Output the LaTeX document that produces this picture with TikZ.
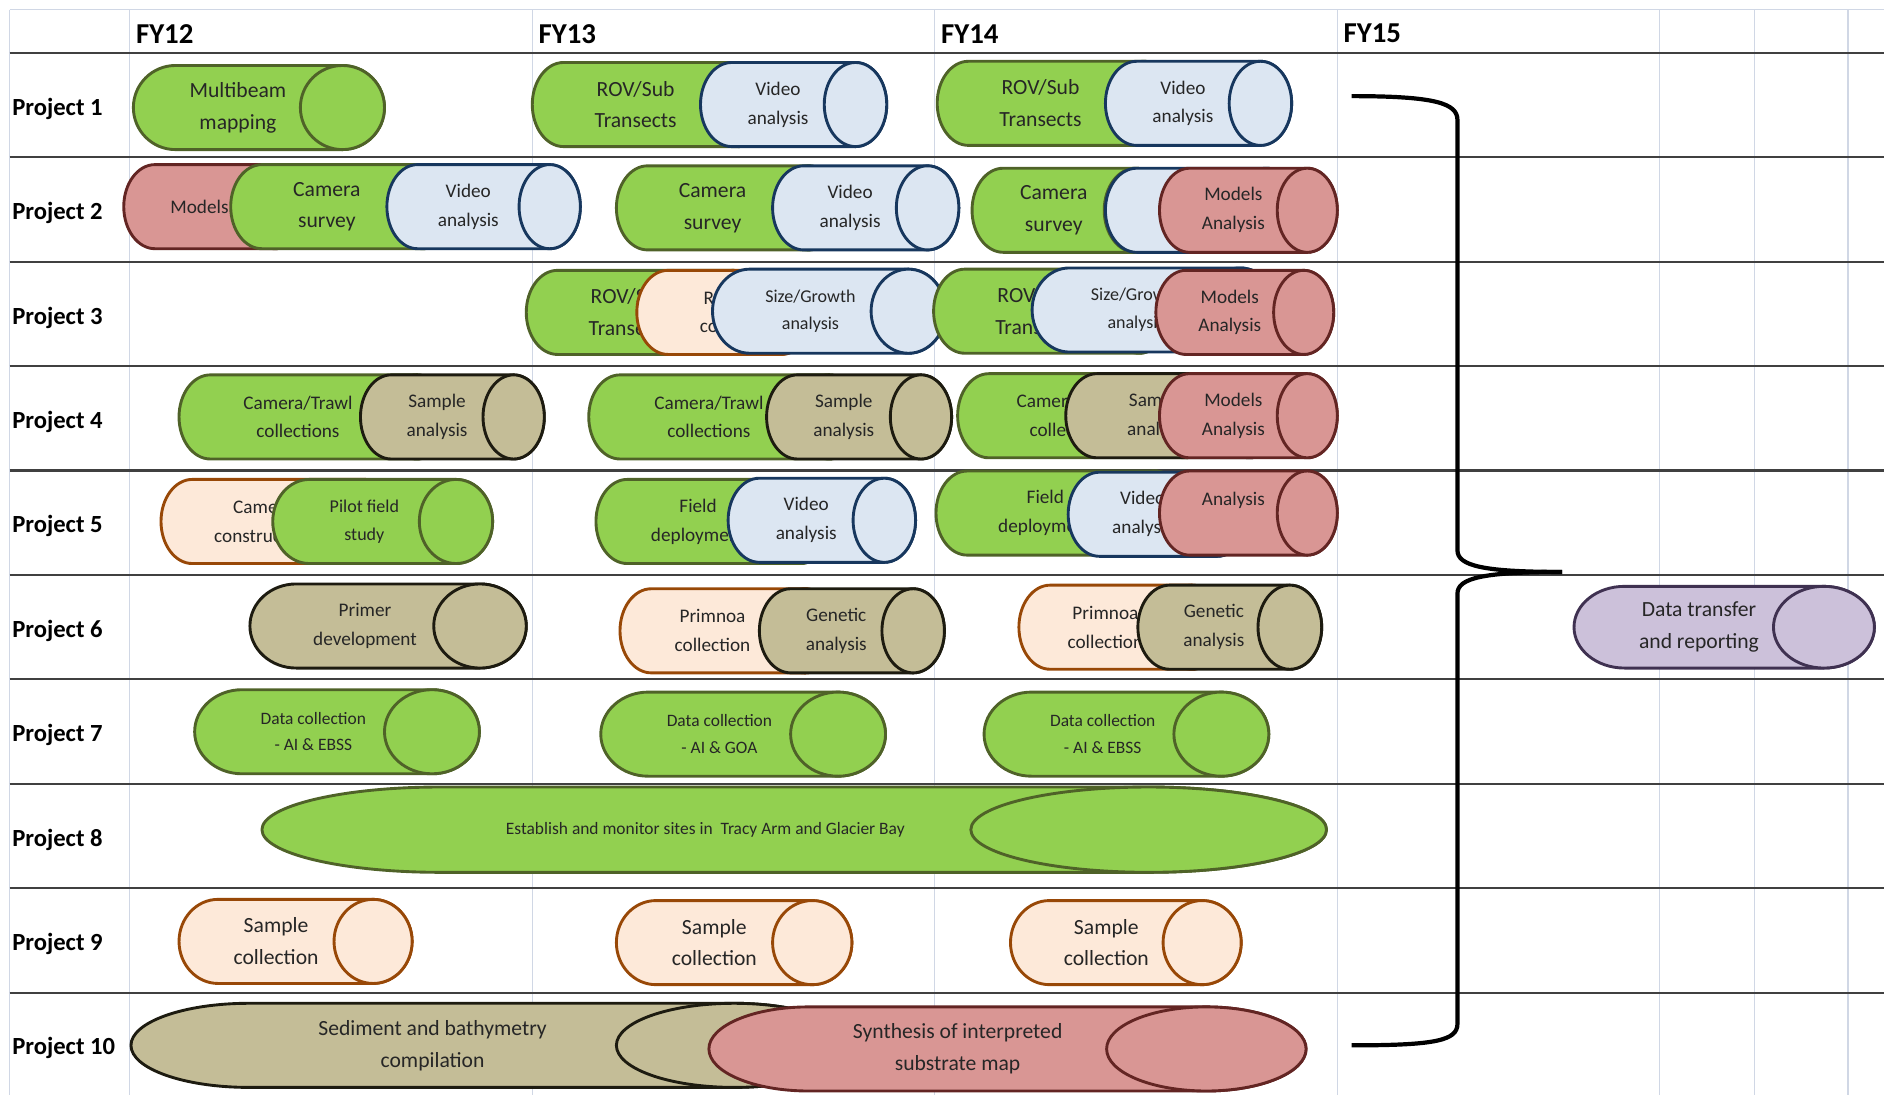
\documentclass[tikz,border=0pt]{standalone}
\usepackage{fontspec}
\setmainfont{Carlito}

\definecolor{grnfill}{HTML}{92D050}
\definecolor{grnline}{HTML}{4F6228}
\definecolor{blufill}{HTML}{DCE6F2}
\definecolor{bluline}{HTML}{17375E}
\definecolor{redfill}{HTML}{D99694}
\definecolor{redline}{HTML}{632523}
\definecolor{tanfill}{HTML}{C4BD97}
\definecolor{tanline}{HTML}{1D1B10}
\definecolor{pchfill}{HTML}{FDE9D9}
\definecolor{pchline}{HTML}{984807}
\definecolor{lavfill}{HTML}{CCC1DA}
\definecolor{lavline}{HTML}{3F3151}
\definecolor{gridline}{HTML}{D0D7E5}

% lying cylinder: [y radius]{style}{name}{left}{right}{y}{x radius}{text}
\newcommand\tube[8][35]{%
    \filldraw[tube, #2] ({#4+#7},{#6-#1}) -- ({#5-#7},{#6-#1})
        arc[start angle=90, end angle=-90, x radius=#7pt, y radius=#1pt]
        -- ({#4+#7},{#6+#1})
        arc[start angle=270, end angle=90, x radius=#7pt, y radius=#1pt] -- cycle;
    \draw[tube, #2] ({#5-#7},#6) ellipse [x radius=#7pt, y radius=#1pt];
    \node[font=\fontsize{16}{24}\selectfont, #2, tubetext] (#3) at ({(#4+#5-#7)/2},#6) {#8};
}

\begin{document}
\begin{tikzpicture}
    [
    x=1pt, y=-1pt,
    grid/.style={draw=gridline, line width=1pt},
    rule/.style={draw=black!75, line width=1.8pt},
    year/.style={anchor=west, inner sep=0pt, font=\fontsize{24}{28}\selectfont\bfseries},
    rowname/.style={anchor=west, inner sep=0pt, font=\fontsize{20.5}{24}\selectfont\bfseries},
    tube/.style={line width=2.4pt, line join=round},
    tubetext/.style={draw=none, fill=none, inner sep=0pt, align=center, text=black!85},
    bigfont/.style={font=\fontsize{18}{26.5}\selectfont},
    narrowfont/.style={font=\fontsize{15}{23}\selectfont},
    smallfont/.style={font=\fontsize{14.5}{22}\selectfont},
    tgreen/.style={draw=grnline, fill=grnfill},
    tblue/.style={draw=bluline, fill=blufill},
    tred/.style={draw=redline, fill=redfill},
    ttan/.style={draw=tanline, fill=tanfill},
    tpeach/.style={draw=pchline, fill=pchfill},
    tlav/.style={draw=lavline, fill=lavfill},
    brace/.style={draw=black, line width=3.5pt},
    ]

    \useasboundingbox (0,0) rectangle (1568,911);

    % grid of the sheet
    \foreach \x in {8,108,443,778,1113,1381,1460,1538}
        \draw[grid] (\x,8) -- (\x,911);
    \draw[grid] (8,8) -- (1568,8);
    \foreach \i in {0,...,9}
        \draw[rule] (8,{44+86.9*\i}) -- (1568,{44+86.9*\i});

    \node[year] (fy12) at (113,28) {FY12};
    \node[year] (fy13) at (448,28) {FY13};
    \node[year] (fy14) at (783,28) {FY14};
    \node[year] (fy15) at (1118,28) {FY15};

    \foreach \i in {1,...,10}
        \node[rowname] (proj\i) at (10,{47+86.9*(\i-0.5)}) {Project \i};

    % Project 1
    \tube{tgreen,bigfont}{p1_mapping}{111}{320}{89.5}{35}{Multibeam\\mapping}
    \tube{tgreen,bigfont}{p1_rov13}{443}{641}{87}{26}{ROV/Sub\\Transects}
    \tube{tblue}{p1_video13}{583}{738}{87}{26}{Video\\analysis}
    \tube{tgreen,bigfont}{p1_rov14}{780}{978}{86}{26}{ROV/Sub\\Transects}
    \tube{tblue}{p1_video14}{920}{1075}{86}{26}{Video\\analysis}

    % Project 2
    \tube{tred}{p2_models12}{103}{255}{172}{26}{Models}
    \tube{tgreen,bigfont}{p2_camera12}{192}{378}{172}{26}{Camera\\survey}
    \tube{tblue}{p2_video12}{322}{483}{172}{25.5}{Video\\analysis}
    \tube{tgreen,bigfont}{p2_camera13}{513}{699}{173}{26}{Camera\\survey}
    \tube{tblue}{p2_video13}{643}{798}{173}{26}{Video\\analysis}
    \tube{tgreen,bigfont}{p2_camera14}{809}{971}{175}{26}{Camera\\survey}
    \tube{tblue}{p2_video14}{920}{1080}{175}{26}{}
    \tube{tred}{p2_models14}{965}{1113}{175}{25}{Models\\Analysis}

    % Project 3
    \tube{tgreen,bigfont}{p3_rov13}{438}{636}{260}{26}{ROV/Sub\\Transects}
    \tube{tpeach}{p3_coll13}{530}{676}{260}{26}{R\\co}
    \tube{tblue,narrowfont}{p3_size13}{593}{787}{259}{31}{Size/Growth\\analysis}
    \tube{tgreen,bigfont}{p3_rov14}{777}{974}{259}{26}{ROV/Sub\\Transects}
    \tube{tblue,narrowfont}{p3_size14}{859}{1063}{258}{31}{Size/Growth\\analysis}
    \tube{tred}{p3_models14}{962}{1110}{260}{25}{Models\\Analysis}

    % Project 4
    \tube{tgreen}{p4_trawl12}{149}{373}{347}{26}{Camera/Trawl\\collections}
    \tube{ttan}{p4_sample12}{300}{453}{347}{25.5}{Sample\\analysis}
    \tube{tgreen}{p4_trawl13}{490}{716}{347}{26}{Camera/Trawl\\collections}
    \tube{ttan}{p4_sample13}{638}{792}{347}{25.5}{Sample\\analysis}
    \tube{tgreen}{p4_trawl14}{797}{1012}{346}{26}{Camera/Trawl\\collections}
    \tube{ttan}{p4_sample14}{887}{1066}{346}{26}{Sample\\analysis}
    \tube{tred}{p4_models14}{965}{1113}{346}{25}{Models\\Analysis}

    % Project 5
    \tube{tpeach}{p5_camera12}{134}{330}{434}{26}{Camera\\construction}
    \tube{tgreen,narrowfont}{p5_pilot12}{227}{410}{434}{30.5}{Pilot field\\study}
    \tube{tgreen}{p5_field13}{496}{692}{434}{26}{Field\\deployment}
    \tube{tblue}{p5_video13}{606}{762}{433}{26}{Video\\analysis}
    \tube{tgreen}{p5_field14}{779}{987}{427}{26}{Field\\deployment}
    \tube{tblue}{p5_video14}{889}{1039}{428}{26}{Video\\analysis}
    \tube{tred}{p5_analysis14}{965}{1113}{427}{25}{Analysis\\~}

    % Project 6
    \tube{ttan}{p6_primer12}{208}{438}{521}{38.5}{Primer\\development}
    \tube{tpeach}{p6_primnoa13}{516}{696}{525}{26}{Primnoa\\collection}
    \tube{ttan}{p6_genetic13}{632}{786}{525}{26}{Genetic\\analysis}
    \tube{tpeach}{p6_primnoa14}{848}{1018}{522}{26}{Primnoa\\collection}
    \tube{ttan}{p6_genetic14}{947}{1100}{522}{26.5}{Genetic\\analysis}
    \tube[34]{tlav,bigfont}{p6_transfer}{1310}{1560}{522}{42}{Data transfer\\and reporting}

    % Project 7
    \tube{tgreen,smallfont}{p7_data12}{162}{399}{609}{39.5}{Data collection\\- AI \& EBSS}
    \tube{tgreen,smallfont}{p7_data13}{500}{737}{611}{39.5}{Data collection\\- AI \& GOA}
    \tube{tgreen,smallfont}{p7_data14}{819}{1056}{611}{39.5}{Data collection\\- AI \& EBSS}

    % Project 8
    \tube[35.5]{tgreen,smallfont}{p8_sites}{218}{1104}{690.5}{148}{Establish and monitor sites in~ Tracy Arm and Glacier Bay}

    % Project 9
    \tube{tpeach,bigfont}{p9_sample12}{149}{343}{783.5}{32.5}{Sample\\collection}
    \tube{tpeach,bigfont}{p9_sample13}{513}{709}{784.5}{33}{Sample\\collection}
    \tube{tpeach,bigfont}{p9_sample14}{841}{1033}{784.5}{32.5}{Sample\\collection}

    % Project 10
    \tube{ttan,bigfont}{p10_sediment}{109}{709}{870}{98}{Sediment and bathymetry\\compilation}
    \tube{tred,bigfont}{p10_synthesis}{590}{1087}{873}{83}{Synthesis of interpreted\\substrate map}

    % brace over all projects
    \coordinate (brace_top) at (1125,80);
    \coordinate (brace_tip) at (1300,476);
    \coordinate (brace_bot) at (1125,870);
    \draw[brace] (brace_top) .. controls (1195,80) and (1213,86) .. (1213,100) -- (1213,458)
        .. controls (1213,471) and (1235,476) .. (brace_tip);
    \draw[brace] (brace_tip) .. controls (1235,476) and (1213,481) .. (1213,494) -- (1213,852)
        .. controls (1213,866) and (1195,870) .. (brace_bot);
\end{tikzpicture}
\end{document}
